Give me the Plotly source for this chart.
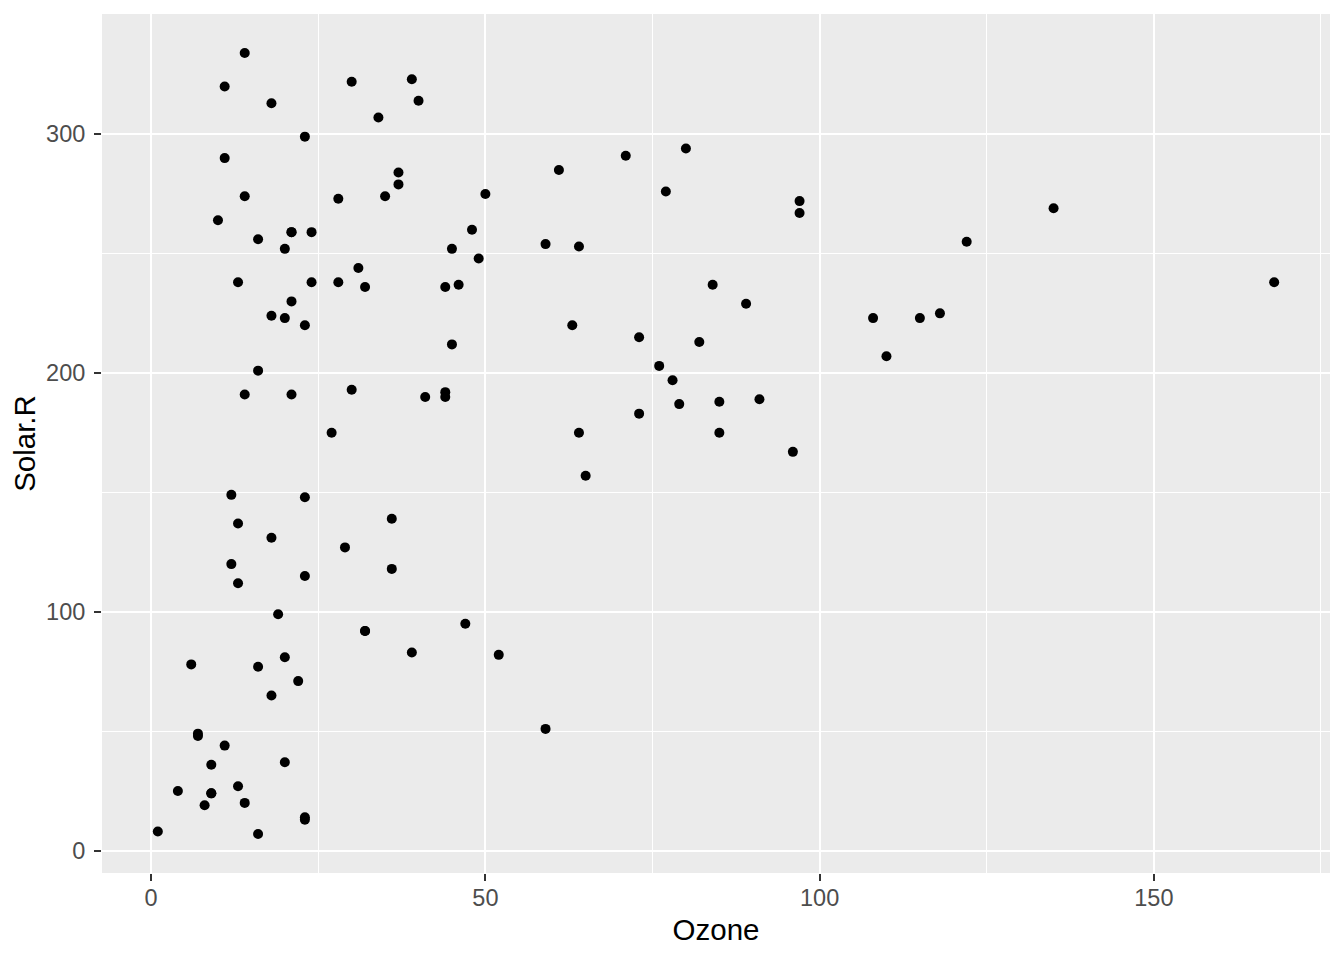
import plotly.graph_objects as go

ozone = [41, 36, 12, 18, 23, 19, 8, 16, 11, 14, 18, 14, 34, 6, 30, 11, 1, 11, 4, 32,
         23, 45, 115, 37, 29, 71, 39, 23, 21, 37, 20, 12, 13, 135, 49, 32, 64, 40, 77, 97,
         97, 85, 10, 27, 7, 48, 35, 61, 79, 63, 16, 80, 108, 20, 52, 82, 50, 64, 59, 39,
         9, 16, 122, 89, 110, 44, 28, 65, 22, 59, 23, 31, 44, 21, 9, 45, 168, 73, 76, 118,
         84, 85, 96, 78, 73, 91, 47, 32, 20, 23, 21, 24, 44, 21, 28, 9, 13, 46, 18, 13,
         24, 16, 13, 23, 36, 7, 14, 30, 14, 18, 20]
solar_r = [190, 118, 149, 313, 299, 99, 19, 256, 290, 274, 65, 334, 307, 78, 322, 44, 8, 320, 25, 92,
           13, 252, 223, 279, 127, 291, 323, 148, 191, 284, 37, 120, 137, 269, 248, 236, 175, 314, 276, 267,
           272, 175, 264, 175, 48, 260, 274, 285, 187, 220, 7, 294, 223, 81, 82, 213, 275, 253, 254, 83,
           24, 77, 255, 229, 207, 192, 273, 157, 71, 51, 115, 244, 190, 259, 36, 212, 238, 215, 203, 225,
           237, 188, 167, 197, 183, 189, 95, 92, 252, 220, 230, 259, 236, 259, 238, 24, 112, 237, 224, 27,
           238, 201, 238, 14, 139, 49, 20, 193, 191, 131, 223]

x_ticks = [0, 50, 100, 150]
y_ticks = [0, 100, 200, 300]
x_minor = [25, 75, 125, 175]
y_minor = [50, 150, 250, 350]

fig = go.Figure()
fig.add_trace(go.Scatter(
    x=ozone, y=solar_r, mode="markers",
    marker=dict(color="black", size=10, line=dict(width=0)),
    showlegend=False, hoverinfo="x+y",
))

xmin, xmax = min(ozone), max(ozone)
ymin, ymax = min(solar_r), max(solar_r)
xpad = (xmax - xmin) * 0.05
ypad = (ymax - ymin) * 0.05

FONT = "Liberation Sans, Arial, sans-serif"
axis_common = dict(
    showgrid=True, gridcolor="white", gridwidth=2,
    zeroline=False, showline=False,
    ticks="outside", ticklen=7, tickwidth=2, tickcolor="#333333",
    tickfont=dict(family=FONT, size=23.5, color="#4D4D4D"),
    title_font=dict(family=FONT, size=29.5, color="black"),
)

fig.update_layout(
    width=1328, height=944,
    margin=dict(l=94, r=6, t=6, b=79),
    plot_bgcolor="#EBEBEB", paper_bgcolor="white",
    xaxis=dict(
        axis_common, range=[xmin - xpad, xmax + xpad],
        tickvals=x_ticks, ticktext=[str(v) for v in x_ticks],
        ticklabelstandoff=-3,
        title=dict(text="Ozone", standoff=9),
        minor=dict(tickvals=x_minor, showgrid=True, gridcolor="white", gridwidth=1, ticks=""),
    ),
    yaxis=dict(
        axis_common, range=[ymin - ypad, ymax + ypad],
        tickvals=y_ticks, ticktext=[str(v) for v in y_ticks],
        ticklabelstandoff=4,
        title=dict(text="Solar.R", standoff=8),
        minor=dict(tickvals=y_minor, showgrid=True, gridcolor="white", gridwidth=1, ticks=""),
    ),
)

fig.write_html("out.html")
